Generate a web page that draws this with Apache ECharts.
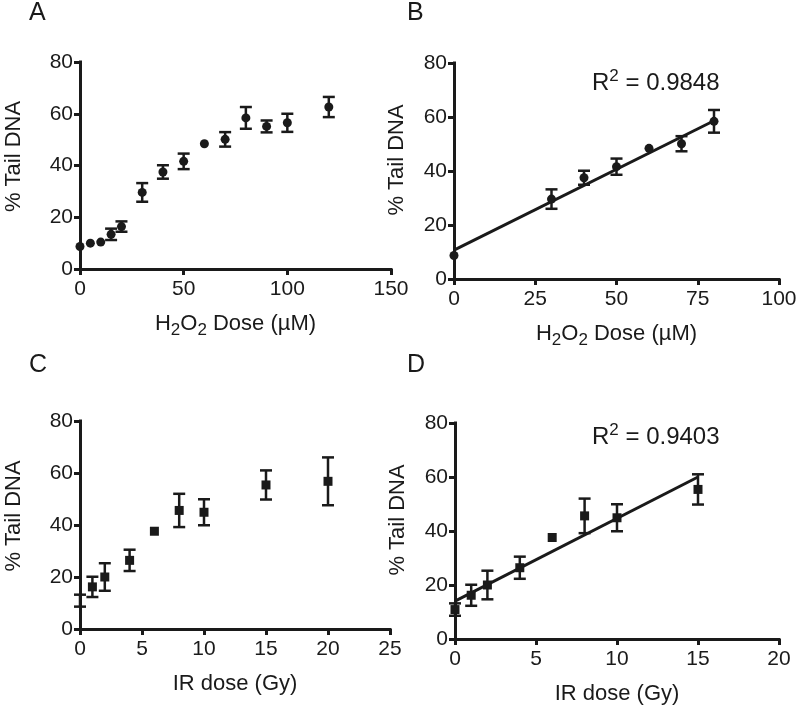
<!DOCTYPE html>
<html><head><meta charset="utf-8">
<script src="https://cdn.jsdelivr.net/npm/echarts@6/dist/echarts.min.js"></script>
<style>html,body{margin:0;padding:0;background:#fff}#c{width:800px;height:711px}</style>
</head><body><div id="c"></div>
<script>
// ---- data ----
const h2o2Dose = [0, 5, 10, 15, 20, 30, 40, 50, 60, 70, 80, 90, 100, 120];
const h2o2Tail = [8.7, 10.0, 10.4, 13.4, 16.4, 29.6, 37.5, 41.6, 48.4, 50.1, 58.4, 55.1, 56.5, 62.6];
const h2o2Err  = [0, 0, 0, 2.2, 2.0, 3.6, 2.6, 3.0, 0, 2.8, 4.2, 2.3, 3.5, 3.9];
const h2o2FitDoses = [0, 30, 40, 50, 60, 70, 80];
const h2o2FitLine = [[0, 10.7], [80, 58.6]];
const h2o2R2 = '0.9848';

const irDose = [0, 1, 2, 4, 6, 8, 10, 15, 20];
const irTail = [10.9, 16.2, 20.0, 26.4, 37.6, 45.6, 44.9, 55.4, 56.8];
const irErr  = [2.3, 3.9, 5.3, 4.1, 0, 6.4, 5.0, 5.6, 9.2];
const irFitDoses = [0, 1, 2, 4, 6, 8, 10, 15];
const irFitLine = [[0, 14.0], [15, 60.0]];
const irR2 = '0.9403';

const yTickMax = 80, yTickStep = 20;
const xAxisA = {max: 150, step: 50};
const xAxisB = {max: 100, step: 25};
const xAxisC = {max: 25, step: 5};
const xAxisD = {max: 20, step: 5};

const panelLetters = ['A', 'B', 'C', 'D'];
const yName = '% Tail DNA';
const xNameH2O2 = '{m|H}{s|2}{m|O}{s|2}{m| Dose (µM)}';
const xNameIR = '{m|IR dose (Gy)}';

// ---- styling ----
const INK = '#1a1a1a';
const FONT = "'Liberation Sans', Arial, Helvetica, sans-serif";

function pick(doses, vals, keep) {
  const out = [];
  doses.forEach((d, i) => { if (!keep || keep.indexOf(d) >= 0) out.push(i); });
  return out;
}

const grids = [
  {left: 80, top: 62, width: 311, height: 207},
  {left: 454, top: 63, width: 325, height: 216},
  {left: 80, top: 421, width: 310, height: 208},
  {left: 455, top: 423, width: 324, height: 216}
].map(g => Object.assign({containLabel: false, outerBoundsMode: 'none'}, g));

const nameRich = {
  m: {fontSize: 22, lineHeight: 30, color: INK, fontFamily: FONT},
  s: {fontSize: 17, lineHeight: 17, verticalAlign: 'bottom', color: INK, fontFamily: FONT}
};

function xAxis(i, ax, name) {
  return {
    type: 'value', gridIndex: i, min: 0, max: ax.max, interval: ax.step,
    name: name, nameLocation: 'middle', nameGap: 40,
    nameTextStyle: {fontSize: 22, lineHeight: 30, color: INK, fontFamily: FONT, rich: nameRich},
    axisLine: {show: true, onZero: false, lineStyle: {color: INK, width: 3, cap: 'square'}},
    axisTick: {show: true, length: 6, lineStyle: {color: INK, width: 3}},
    axisLabel: {fontSize: 21, lineHeight: 21, color: INK, fontFamily: FONT, margin: 10},
    splitLine: {show: false}
  };
}
function yAxis(i, gap, pad) {
  return {
    type: 'value', gridIndex: i, min: 0, max: yTickMax, interval: yTickStep,
    name: yName, nameLocation: 'middle', nameGap: gap,
    nameTextStyle: {fontSize: 22, lineHeight: 26, color: INK, fontFamily: FONT, padding: [0, 0, 0, pad]},
    axisLine: {show: true, onZero: false, lineStyle: {color: INK, width: 3, cap: 'square'}},
    axisTick: {show: true, length: 6, lineStyle: {color: INK, width: 3}},
    axisLabel: {fontSize: 21, color: INK, fontFamily: FONT, margin: 7},
    splitLine: {show: false}
  };
}

function errRender(params, api) {
  const x = api.value(0), y = api.value(1), e = api.value(2);
  if (!e) return {type: 'group', children: []};
  const top = api.coord([x, y + e]);
  const bot = api.coord([x, y - e]);
  const hw = 6;
  const st = {stroke: INK, lineWidth: 2.5};
  return {
    type: 'group',
    children: [
      {type: 'line', shape: {x1: top[0], y1: top[1], x2: bot[0], y2: bot[1]}, style: st},
      {type: 'line', shape: {x1: top[0] - hw, y1: top[1], x2: top[0] + hw, y2: top[1]}, style: st},
      {type: 'line', shape: {x1: bot[0] - hw, y1: bot[1], x2: bot[0] + hw, y2: bot[1]}, style: st}
    ]
  };
}

function errSeries(i, doses, vals, errs, idx) {
  return {
    type: 'custom', xAxisIndex: i, yAxisIndex: i, renderItem: errRender, clip: false,
    encode: {x: 0, y: 1}, silent: true,
    data: idx.map(k => [doses[k], vals[k], errs[k]]), z: 2
  };
}
function ptSeries(i, doses, vals, idx, symbol, hideFirst) {
  return {
    type: 'scatter', xAxisIndex: i, yAxisIndex: i, symbol: symbol, symbolSize: 9, clip: false,
    itemStyle: {color: INK, opacity: 1}, silent: true, z: 3,
    data: idx.map(k => (hideFirst && doses[k] === 0) ? {value: [doses[k], vals[k]], symbolSize: 0} : [doses[k], vals[k]])
  };
}
function fitSeries(i, pts) {
  return {
    type: 'line', xAxisIndex: i, yAxisIndex: i, data: pts, showSymbol: false, symbol: 'none',
    lineStyle: {color: INK, width: 3}, silent: true, z: 1, animation: false
  };
}

const allA = pick(h2o2Dose);
const fitB = pick(h2o2Dose, null, h2o2FitDoses);
const allC = pick(irDose);
const fitD = pick(irDose, null, irFitDoses);

const letterPos = [[29, 1], [407, 1], [29, 353], [407, 353]];
const titles = panelLetters.map((t, k) => ({
  text: t, left: letterPos[k][0], top: letterPos[k][1], padding: 0,
  textStyle: {fontSize: 25, fontWeight: 'normal', color: INK, fontFamily: FONT}
}));
const r2Rich = {
  r: {fontSize: 24, lineHeight: 30, color: INK, fontFamily: FONT},
  p: {fontSize: 17, lineHeight: 17, verticalAlign: 'top', color: INK, fontFamily: FONT}
};
titles.push({text: '{r|R}{p|2}{r| = ' + h2o2R2 + '}', left: 592, top: 68, padding: 0,
  textStyle: {fontSize: 24, fontWeight: 'normal', color: INK, fontFamily: FONT, rich: r2Rich}});
titles.push({text: '{r|R}{p|2}{r| = ' + irR2 + '}', left: 592, top: 422, padding: 0,
  textStyle: {fontSize: 24, fontWeight: 'normal', color: INK, fontFamily: FONT, rich: r2Rich}});

const option = {
  backgroundColor: '#fff',
  animation: false,
  textStyle: {fontFamily: FONT},
  title: titles,
  grid: grids,
  xAxis: [xAxis(0, xAxisA, xNameH2O2), xAxis(1, xAxisB, xNameH2O2), xAxis(2, xAxisC, xNameIR), xAxis(3, xAxisD, xNameIR)],
  yAxis: [yAxis(0, 53, 18), yAxis(1, 44, 22), yAxis(2, 53, 18), yAxis(3, 44, 22)],
  series: [
    errSeries(0, h2o2Dose, h2o2Tail, h2o2Err, allA),
    ptSeries(0, h2o2Dose, h2o2Tail, allA, 'circle', false),
    fitSeries(1, h2o2FitLine),
    errSeries(1, h2o2Dose, h2o2Tail, h2o2Err, fitB),
    ptSeries(1, h2o2Dose, h2o2Tail, fitB, 'circle', false),
    errSeries(2, irDose, irTail, irErr, allC),
    ptSeries(2, irDose, irTail, allC, 'rect', true),
    fitSeries(3, irFitLine),
    errSeries(3, irDose, irTail, irErr, fitD),
    ptSeries(3, irDose, irTail, fitD, 'rect', false)
  ]
};
const chart = echarts.init(document.getElementById('c'), null, {renderer: 'canvas'});
chart.setOption(option);
</script>
</body></html>
